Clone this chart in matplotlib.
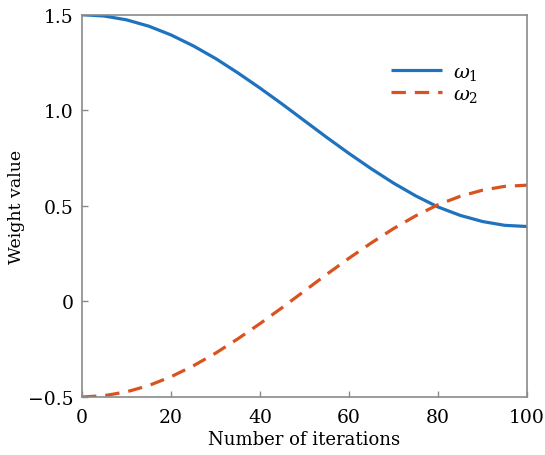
import matplotlib
matplotlib.use("Agg")
import matplotlib.pyplot as plt

# Weight trajectories over training iterations
iterations = [0, 5, 10, 15, 20, 25, 30, 35, 40, 45, 50,
              55, 60, 65, 70, 75, 80, 85, 90, 95, 100]
w1 = [1.500, 1.493, 1.473, 1.440, 1.394, 1.337, 1.271, 1.196, 1.116, 1.032, 0.945,
      0.858, 0.774, 0.694, 0.619, 0.552, 0.494, 0.450, 0.418, 0.398, 0.392]
w2 = [-0.500, -0.493, -0.473, -0.440, -0.394, -0.337, -0.271, -0.196, -0.116, -0.032, 0.055,
      0.142, 0.226, 0.306, 0.381, 0.448, 0.506, 0.550, 0.582, 0.602, 0.608]

x_ticks = [0, 20, 40, 60, 80, 100]
y_ticks = [-0.5, 0, 0.5, 1.0, 1.5]
y_tick_labels = ["\u22120.5", "0", "0.5", "1.0", "1.5"]

plt.rcParams["font.family"] = ["DejaVu Serif"]
plt.rcParams["mathtext.fontset"] = "dejavuserif"

fig = plt.figure(figsize=(5.45, 4.56), dpi=100)
ax = fig.add_axes([0.1505, 0.1272, 0.8165, 0.8384])

ax.plot(iterations, w1, color="#1f72bd", lw=2.3, label=r"$\omega_1$",
        solid_capstyle="butt")
ax.plot(iterations, w2, color="#d9531e", lw=2.3, label=r"$\omega_2$",
        dashes=(4.5, 2.8))

ax.set_xlim(0, 100)
ax.set_ylim(-0.5, 1.5)
ax.set_xticks(x_ticks)
ax.set_yticks(y_ticks)
ax.set_yticklabels(y_tick_labels)

for s in ax.spines.values():
    s.set_color("#8a8a8a")
    s.set_linewidth(1.2)
ax.tick_params(direction="in", length=4, width=1, color="#8a8a8a",
               labelsize=13.5, labelcolor="#000000")
ax.tick_params(axis="x", pad=8)
ax.tick_params(axis="y", pad=6)

ax.set_xlabel("Number of iterations", fontsize=13, color="#000000", labelpad=3)
ax.set_ylabel("Weight value", fontsize=12.5, color="#000000")
ax.yaxis.set_label_coords(-0.128, 0.5)

ax.legend(loc="upper left", bbox_to_anchor=(0.655, 0.92), frameon=False,
          fontsize=14, handlelength=2.6, handletextpad=0.6, labelspacing=0.15)

fig.savefig("out.png", dpi=100)
